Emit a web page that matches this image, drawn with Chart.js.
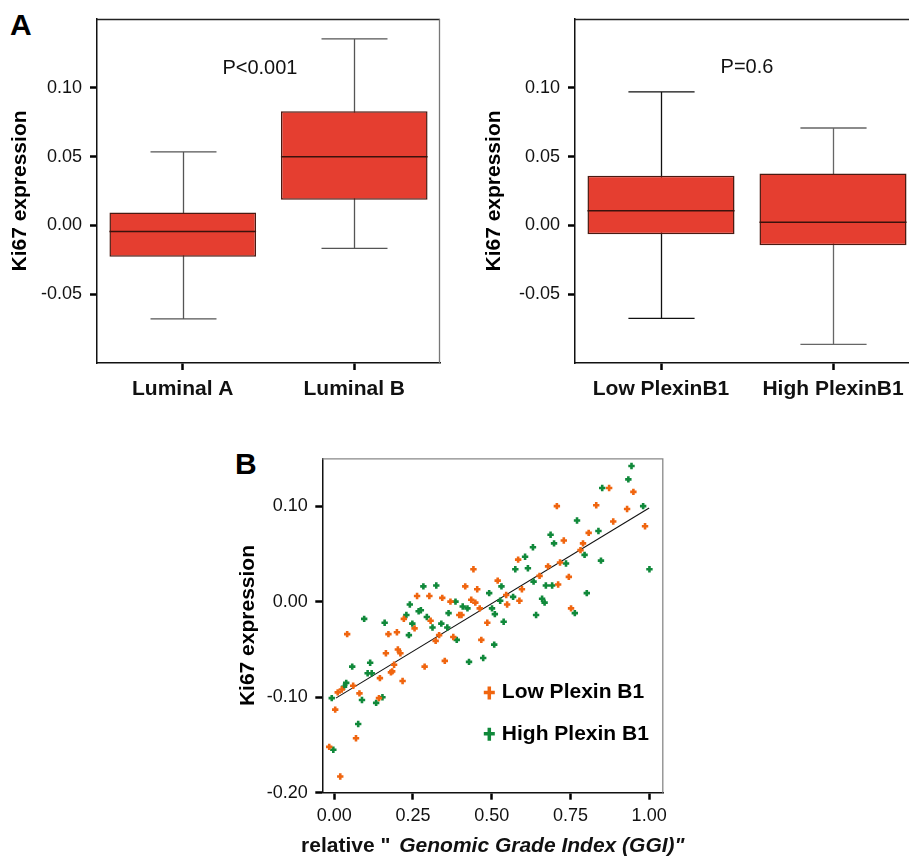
<!DOCTYPE html>
<html><head><meta charset="utf-8">
<script src="https://cdn.jsdelivr.net/npm/chart.js@4.4.1/dist/chart.umd.min.js"></script>
<style>
html,body{margin:0;padding:0;width:909px;height:857px;overflow:hidden;background:#fff;}
canvas{position:absolute;}
.lbl{position:absolute;font-family:"Liberation Sans",Arial,sans-serif;font-weight:bold;font-size:30px;line-height:1;color:#000;}
</style></head><body>
<div class="lbl" style="left:10px;top:10px">A</div>
<div class="lbl" style="left:235px;top:449px">B</div>
<canvas id="c1" width="450" height="410" style="left:0;top:0"></canvas>
<canvas id="c2" width="470" height="410" style="left:460px;top:0"></canvas>
<canvas id="c3" width="470" height="417" style="left:230px;top:440px"></canvas>
<script>
// ---------- data: panel A (Luminal subtypes) ----------
const lumCats = ['Luminal A', 'Luminal B'];
const lumMin  = [-0.068, -0.0167];
const lumQ1   = [-0.0228, 0.0186];
const lumMed  = [-0.0044, 0.0499];
const lumQ3   = [0.0094, 0.083];
const lumMax  = [0.0535, 0.1356];
const lumP    = 'P<0.001';

// ---------- data: panel A (PlexinB1 groups) ----------
const plxCats = ['Low PlexinB1', 'High PlexinB1'];
const plxMin  = [-0.0676, -0.0865];
const plxQ1   = [-0.0065, -0.0145];
const plxMed  = [0.0107, 0.0022];
const plxQ3   = [0.036, 0.0378];
const plxMax  = [0.097, 0.0708];
const plxP    = 'P=0.6';

const boxTicks = [-0.05, 0.00, 0.05, 0.10];

// ---------- data: panel B (scatter) ----------
const lowX = [-0.016,0.003,0.019,0.011,0.024,0.041,0.060,0.069,0.080,0.145,0.142,0.164,0.172,0.180,0.184,0.190,0.199,0.202,0.210,0.217,0.221,0.255,0.263,0.287,0.302,0.306,0.322,0.333,0.343,0.351,0.369,0.378,0.397,0.404,0.416,0.435,0.442,0.448,0.454,0.462,0.467,0.486,0.519,0.546,0.549,0.584,0.588,0.596,0.652,0.679,0.707,0.711,0.717,0.729,0.745,0.752,0.782,0.790,0.808,0.832,0.873,0.886,0.930,0.950,0.987];
const lowY = [-0.152,-0.113,-0.183,-0.095,-0.092,-0.034,-0.088,-0.143,-0.096,-0.080,-0.101,-0.054,-0.034,-0.074,-0.073,-0.066,-0.032,-0.050,-0.054,-0.083,-0.018,-0.028,0.006,-0.068,0.006,-0.020,-0.041,-0.035,0.004,-0.062,0.000,-0.037,-0.014,-0.014,0.016,0.002,0.034,-0.001,0.013,-0.007,-0.040,-0.022,0.022,0.007,-0.003,0.044,0.001,0.013,0.027,0.037,0.100,0.018,0.041,0.064,0.026,-0.007,0.054,0.061,0.072,0.101,0.119,0.084,0.097,0.115,0.079];
const highX = [-0.008,-0.003,0.031,0.038,0.057,0.076,0.088,0.095,0.106,0.114,0.119,0.133,0.153,0.160,0.229,0.237,0.240,0.248,0.268,0.275,0.283,0.294,0.312,0.324,0.340,0.359,0.363,0.385,0.389,0.408,0.423,0.428,0.473,0.492,0.501,0.510,0.508,0.527,0.531,0.538,0.568,0.575,0.606,0.615,0.631,0.633,0.641,0.660,0.668,0.672,0.687,0.692,0.698,0.736,0.764,0.771,0.795,0.802,0.839,0.847,0.851,0.934,0.944,0.981,1.001];
const highY = [-0.101,-0.155,-0.089,-0.085,-0.068,-0.128,-0.103,-0.018,-0.075,-0.064,-0.075,-0.106,-0.100,-0.022,-0.014,-0.035,-0.003,-0.023,-0.010,-0.009,0.016,-0.016,-0.027,0.017,-0.023,-0.027,-0.012,0.000,-0.040,-0.005,-0.007,-0.063,-0.059,0.009,-0.007,-0.013,-0.045,0.001,0.016,-0.021,0.005,0.034,0.047,0.035,0.057,0.021,-0.014,0.003,-0.001,0.017,0.070,0.017,0.061,0.040,-0.012,0.085,0.049,0.009,0.074,0.043,0.119,0.128,0.142,0.100,0.034];
const fitX = [0.005, 1.0];
const fitY = [-0.101, 0.098];
const scatTicksX = [0.00, 0.25, 0.50, 0.75, 1.00];
const scatTicksY = [-0.20, -0.10, 0.00, 0.10];
const seriesNames = ['Low Plexin B1', 'High Plexin B1'];

// ---------- styling ----------
const FAM = '"Liberation Sans", Arial, sans-serif';
Chart.defaults.font.family = FAM;
Chart.defaults.color = '#111';
const BOX_FILL = '#E53E30';
const BOX_EDGE = '#4a1a12';
const ORANGE = '#F0650F';
const GREEN = '#10893A';

const boxPlugin = {
  id: 'boxWhisk',
  beforeDatasetsDraw(chart, args, o) {
    const ds = chart.data.datasets[0];
    const meta = chart.getDatasetMeta(0);
    const y = chart.scales.y, ctx = chart.ctx;
    ctx.save();
    ctx.lineWidth = 1.3;
    meta.data.forEach((bar, i) => {
      const x = Math.round(bar.x) + 0.5;
      const y0 = y.getPixelForValue(ds.whiskMin[i]);
      const y1 = y.getPixelForValue(ds.whiskMax[i]);
      const cw = bar.width * 0.225;
      ctx.strokeStyle = o.whiskColors[i];
      ctx.beginPath();
      ctx.moveTo(x, y0); ctx.lineTo(x, y1);
      ctx.moveTo(x - cw, y0); ctx.lineTo(x + cw, y0);
      ctx.moveTo(x - cw, y1); ctx.lineTo(x + cw, y1);
      ctx.stroke();
    });
    ctx.restore();
  },
  afterDatasetsDraw(chart, args, o) {
    const ds = chart.data.datasets[0];
    const meta = chart.getDatasetMeta(0);
    const y = chart.scales.y, x = chart.scales.x, ctx = chart.ctx;
    ctx.save();
    ctx.strokeStyle = '#3a120c';
    ctx.lineWidth = 1.5;
    meta.data.forEach((bar, i) => {
      const ym = y.getPixelForValue(ds.median[i]);
      ctx.beginPath();
      ctx.moveTo(bar.x - bar.width / 2, ym); ctx.lineTo(bar.x + bar.width / 2, ym);
      ctx.stroke();
    });
    // frame top/right
    const a = chart.chartArea;
    ctx.lineWidth = 1.3;
    ctx.strokeStyle = '#222';
    ctx.beginPath(); ctx.moveTo(a.left, a.top + 0.5); ctx.lineTo(a.right, a.top + 0.5); ctx.stroke();
    ctx.strokeStyle = '#777';
    ctx.beginPath(); ctx.moveTo(a.right - 0.5, a.top); ctx.lineTo(a.right - 0.5, a.bottom); ctx.stroke();
    // p-value annotation
    ctx.fillStyle = '#111';
    ctx.font = '20px ' + FAM;
    ctx.textAlign = 'center'; ctx.textBaseline = 'middle';
    ctx.fillText(o.pText, x.getPixelForValue(o.pAt[0]), y.getPixelForValue(o.pAt[1]));
    ctx.restore();
  }
};

function boxChart(id, cats, mn, q1, med, q3, mx, pText, pAt, yW, titlePad, whiskColors, padRight) {
  return new Chart(document.getElementById(id), {
    type: 'bar',
    data: {
      labels: cats,
      datasets: [{
        data: q1.map((v, i) => [v, q3[i]]),
        whiskMin: mn, whiskMax: mx, median: med,
        backgroundColor: BOX_FILL, borderColor: BOX_EDGE, borderWidth: 1.5, borderSkipped: false,
        barPercentage: 0.855, categoryPercentage: 1.0
      }]
    },
    options: {
      responsive: false, animation: false, devicePixelRatio: 1,
      layout: { padding: { left: 0, right: padRight, top: 19, bottom: 0 } },
      plugins: { legend: { display: false }, tooltip: { enabled: false },
                 boxWhisk: { pText: pText, pAt: pAt, whiskColors: whiskColors } },
      scales: {
        x: {
          offset: true,
          afterFit: s => { s.height = 47; },
          grid: { offset: false, drawOnChartArea: false, tickLength: 7, tickWidth: 2.5, tickColor: '#000' },
          border: { display: true, color: '#111', width: 1.5 },
          ticks: { font: { size: 21, weight: 'bold' }, color: '#111', padding: 7, maxRotation: 0, autoSkip: false }
        },
        y: {
          min: -0.1, max: 0.15,
          afterBuildTicks: s => { s.ticks = boxTicks.map(v => ({ value: v })); },
          afterFit: s => { s.width = yW; },
          grid: { drawOnChartArea: false, tickLength: 7, tickWidth: 2.5, tickColor: '#000' },
          border: { display: true, color: '#111', width: 1.5 },
          ticks: { font: { size: 18 }, color: '#111', padding: 8, callback: v => Number(v).toFixed(2) },
          title: { display: true, text: 'Ki67 expression', font: { size: 21, weight: 'bold' }, color: '#000', padding: { top: titlePad, bottom: 0 } }
        }
      }
    },
    plugins: [boxPlugin]
  });
}

boxChart('c1', lumCats, lumMin, lumQ1, lumMed, lumQ3, lumMax, lumP, [0.45, 0.114], 97, 8, ['#555', '#555'], 10);
boxChart('c2', plxCats, plxMin, plxQ1, plxMed, plxQ3, plxMax, plxP, [0.5, 0.115], 115, 22, ['#111', '#666'], 11);

// ---------- panel B ----------
const scatPlugin = {
  id: 'scatExtras',
  afterDraw(chart, args, o) {
    const ctx = chart.ctx, a = chart.chartArea;
    ctx.save();
    // frame top/right
    ctx.lineWidth = 1.3; ctx.strokeStyle = '#888';
    ctx.beginPath();
    ctx.moveTo(a.left, a.top + 0.5); ctx.lineTo(a.right - 0.5, a.top + 0.5); ctx.lineTo(a.right - 0.5, a.bottom);
    ctx.stroke();
    // legend
    const items = chart.data.datasets.filter(d => d.inLegend);
    items.forEach((d, i) => {
      const yy = o.legendY + i * o.legendGap;
      ctx.strokeStyle = d.borderColor;
      ctx.lineWidth = 3.5;
      ctx.beginPath();
      ctx.moveTo(o.legendX - 5.5, yy); ctx.lineTo(o.legendX + 5.5, yy);
      ctx.moveTo(o.legendX, yy - 6); ctx.lineTo(o.legendX, yy + 7);
      ctx.stroke();
      ctx.fillStyle = '#000';
      ctx.font = 'bold 21px ' + FAM;
      ctx.textAlign = 'left'; ctx.textBaseline = 'middle';
      ctx.fillText(d.label, o.legendX + 12.5, yy);
    });
    // x-axis title (mixed upright / italic)
    const p1 = 'relative " ', p2 = 'Genomic Grade Index (GGI)"', gap = 3;
    ctx.font = 'bold 21px ' + FAM; const w1 = ctx.measureText(p1).width;
    ctx.font = 'italic bold 21px ' + FAM; const w2 = ctx.measureText(p2).width;
    const cx = (a.left + a.right) / 2, x0 = cx - (w1 + gap + w2) / 2;
    ctx.fillStyle = '#111'; ctx.textAlign = 'left'; ctx.textBaseline = 'middle';
    ctx.font = 'bold 21px ' + FAM; ctx.fillText(p1, x0, o.xTitleY);
    ctx.font = 'italic bold 21px ' + FAM; ctx.fillText(p2, x0 + w1 + gap, o.xTitleY);
    ctx.restore();
  }
};

new Chart(document.getElementById('c3'), {
  type: 'scatter',
  data: {
    datasets: [
      { label: seriesNames[0], inLegend: true, data: lowX.map((x, i) => ({ x: x, y: lowY[i] })),
        pointStyle: 'cross', pointRadius: 3.2, pointBorderWidth: 2.6, borderColor: ORANGE, backgroundColor: ORANGE },
      { label: seriesNames[1], inLegend: true, data: highX.map((x, i) => ({ x: x, y: highY[i] })),
        pointStyle: 'cross', pointRadius: 3.2, pointBorderWidth: 2.6, borderColor: GREEN, backgroundColor: GREEN },
      { type: 'line', label: 'fit', data: fitX.map((x, i) => ({ x: x, y: fitY[i] })),
        borderColor: '#111', borderWidth: 1.1, pointRadius: 0, fill: false }
    ]
  },
  options: {
    responsive: false, animation: false, devicePixelRatio: 1,
    layout: { padding: { left: 0, right: 36.7, top: 12.7, bottom: 0 } },
    plugins: { legend: { display: false }, tooltip: { enabled: false },
               scatExtras: { legendX: 259.3, legendY: 252.5, legendGap: 41.3, xTitleY: 406 } },
    scales: {
      x: {
        type: 'linear', min: -0.038, max: 1.045,
        afterBuildTicks: s => { s.ticks = scatTicksX.map(v => ({ value: v })); },
        afterFit: s => { s.height = 64.3; },
        grid: { drawOnChartArea: false, tickLength: 7, tickWidth: 2.5, tickColor: '#000' },
        border: { display: true, color: '#111', width: 1.5 },
        ticks: { font: { size: 18 }, color: '#111', padding: 6, maxRotation: 0, callback: v => Number(v).toFixed(2) }
      },
      y: {
        min: -0.20, max: 0.15,
        afterBuildTicks: s => { s.ticks = scatTicksY.map(v => ({ value: v })); },
        afterFit: s => { s.width = 92.3; },
        grid: { drawOnChartArea: false, tickLength: 7, tickWidth: 2.5, tickColor: '#000' },
        border: { display: true, color: '#111', width: 1.5 },
        ticks: { font: { size: 18 }, color: '#111', padding: 7.6, callback: v => Number(v).toFixed(2) },
        title: { display: true, text: 'Ki67 expression', font: { size: 21, weight: 'bold' }, color: '#000', padding: { top: 5.4, bottom: 0 } }
      }
    }
  },
  plugins: [scatPlugin]
});
</script>
</body></html>
